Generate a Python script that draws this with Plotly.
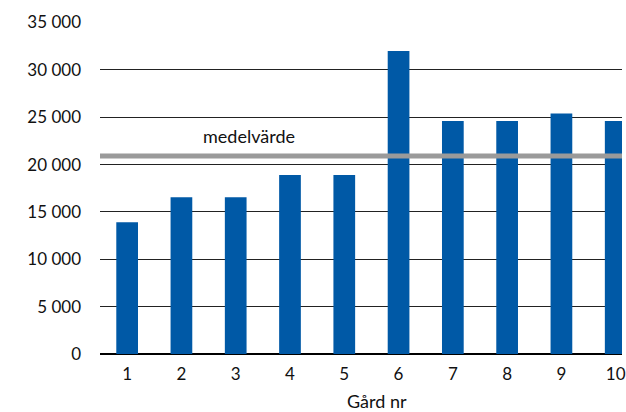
import plotly.graph_objects as go

farms = ["1", "2", "3", "4", "5", "6", "7", "8", "9", "10"]
values = [13900, 16550, 16550, 18900, 18900, 32000, 24600, 24600, 25400, 24600]
mean_value = 20900
mean_label = "medelvärde"
y_ticks = [0, 5000, 10000, 15000, 20000, 25000, 30000, 35000]
y_ticktext = ["0", "5 000", "10 000", "15 000", "20 000", "25 000", "30 000", "35 000"]
x_title = "Gård nr"

FONT = "Lato"
BLUE = "#0059A6"
GREY = "#9A9A9A"
TXT = "#111111"

fig = go.Figure()
fig.add_trace(go.Bar(
    x=list(range(len(farms))), y=values,
    marker=dict(color=BLUE, line=dict(width=0)),
    width=0.4, hoverinfo="skip",
))

fig.add_shape(type="line", xref="paper", x0=0, x1=1, yref="y",
              y0=mean_value, y1=mean_value,
              line=dict(color=GREY, width=5), layer="above")

fig.add_annotation(xref="x", x=2.24, yref="y", y=mean_value, yshift=20,
                   text=mean_label, showarrow=False,
                   font=dict(family=FONT, size=18, color=TXT))

fig.add_annotation(xref="x", x=4.6, yref="paper", y=0, yshift=-47,
                   text=x_title, showarrow=False, yanchor="middle",
                   font=dict(family=FONT, size=18, color=TXT))

fig.update_layout(
    width=626, height=412,
    margin=dict(l=100, r=0, t=22, b=58),
    paper_bgcolor="white", plot_bgcolor="white",
    showlegend=False,
    font=dict(family=FONT, size=17, color=TXT),
    bargap=0.6,
)
fig.update_xaxes(
    range=[-0.5, 9.116],
    tickvals=list(range(len(farms))), ticktext=farms,
    showgrid=False, zeroline=False, showline=False,
    ticks="", ticklabelstandoff=8, ticklabeloverflow="allow",
    tickfont=dict(family=FONT, size=17, color=TXT),
)
fig.update_yaxes(
    range=[0, 35050],
    tickvals=y_ticks, ticktext=y_ticktext,
    showgrid=True, gridcolor="#222222", gridwidth=1.2,
    zeroline=True, zerolinecolor="#000000", zerolinewidth=1.5,
    showline=False, ticks="", ticklabelstandoff=18,
    tickfont=dict(family=FONT, size=17, color=TXT),
)

fig.write_html("out.html", config={"displayModeBar": False},
               post_script="document.body.style.margin='0';document.body.style.overflow='hidden';")
